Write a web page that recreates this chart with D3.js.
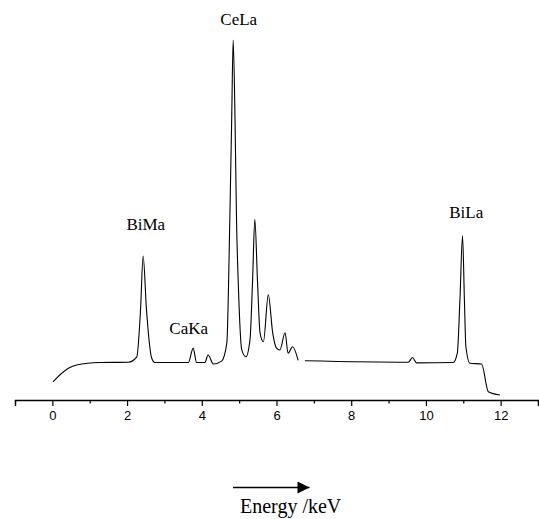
<!DOCTYPE html>
<html>
<head>
<meta charset="utf-8">
<script src="https://cdn.jsdelivr.net/npm/d3@7"></script>
<style>
  html, body { margin: 0; padding: 0; background: #fff; }
  svg { display: block; }
</style>
</head>
<body>
<svg id="chart" width="539" height="519"></svg>
<script>
// EDS spectrum: energy (keV) and relative intensity (counts, arbitrary)
const energy = [
  0.02, 0.43, 0.65, 1.27, 2.03, 2.26, 2.36, 2.43, 2.52, 2.66, 2.75,
  3.64, 3.77, 3.86, 4.08, 4.17, 4.31, 4.53, 4.67, 4.75, 4.80, 4.84,
  4.89, 4.93, 4.98, 5.07, 5.18, 5.29, 5.36, 5.42, 5.49, 5.56, 5.65,
  5.78, 5.90, 6.00, 6.09, 6.23, 6.31, 6.43, 6.58, 6.66, 6.76, 9.53,
  9.64, 9.75, 10.73, 10.84, 10.91, 10.98, 11.03, 11.07, 11.18, 11.49,
  11.67, 11.98
];
const intensity = [
  51, 88, 97, 104, 105, 120, 250, 400, 250, 116, 104,
  104, 144, 104, 104, 125, 100, 108, 158, 500, 778, 1000,
  778, 500, 315, 139, 120, 167, 333, 502, 333, 186, 162,
  292, 185, 144, 139, 187, 130, 148, 110, null, 109, 105,
  118, 103, 104, 130, 278, 456, 278, 148, 102, 100,
  23, 14
];

// Peak labels
const peakNames = ["BiMa", "CaKa", "CeLa", "BiLa"];
const peakLabelX = [2.50, 3.65, 4.99, 11.08];     // keV
const peakLabelY = [473, 182, 1042, 506];          // intensity units

const tickValues = d3.range(-1, 14);
const labelledTicks = [0, 2, 4, 6, 8, 10, 12];

const svg = d3.select("#chart");

const x = d3.scaleLinear().domain([-1, 13]).range([15, 538]);
const y = d3.scaleLinear().domain([0, 1000]).range([400, 40]);

// Spectrum trace
const points = energy.map((e, i) => ({ e, v: intensity[i] }));
const line = d3.line()
  .defined(d => d.v !== null)
  .x(d => x(d.e))
  .y(d => y(d.v))
  .curve(d3.curveMonotoneX);

svg.append("path")
  .datum(points)
  .attr("d", line)
  .attr("fill", "none")
  .attr("stroke", "#000")
  .attr("stroke-width", 1.1)
  .attr("stroke-linejoin", "round");

// Energy axis
const axis = d3.axisBottom(x)
  .tickValues(tickValues)
  .tickSizeOuter(0)
  .tickSize(6)
  .tickPadding(5)
  .tickFormat(d => labelledTicks.includes(d) ? d3.format("d")(d) : "");

const gAxis = svg.append("g")
  .attr("transform", `translate(0,${y(0)})`)
  .call(axis);

gAxis.select(".domain").attr("stroke", "#000").attr("stroke-width", 1.4);
gAxis.selectAll(".tick line")
  .attr("stroke", "#000")
  .attr("stroke-width", 1.2)
  .attr("y2", d => labelledTicks.includes(d) ? 6 : 3.5);
gAxis.selectAll(".tick text")
  .attr("fill", "#000")
  .style("font-family", "'Liberation Sans', Arial, sans-serif")
  .style("font-size", "13px");

// Peak labels
svg.append("g")
  .selectAll("text")
  .data(peakNames)
  .join("text")
  .attr("x", (d, i) => x(peakLabelX[i]))
  .attr("y", (d, i) => y(peakLabelY[i]))
  .attr("text-anchor", "middle")
  .style("font-family", "'Liberation Serif', 'Times New Roman', serif")
  .style("font-size", "17px")
  .attr("fill", "#000")
  .text(d => d);

// Axis title with direction arrow
const defs = svg.append("defs");
defs.append("marker")
  .attr("id", "arrowhead")
  .attr("viewBox", "0 0 10 10")
  .attr("refX", 10)
  .attr("refY", 5)
  .attr("markerWidth", 13)
  .attr("markerHeight", 12)
  .attr("markerUnits", "userSpaceOnUse")
  .attr("orient", "auto")
  .append("path")
  .attr("d", "M0,0 L10,5 L0,10 Z")
  .attr("fill", "#000");

svg.append("line")
  .attr("x1", 233)
  .attr("x2", 309.5)
  .attr("y1", 487.5)
  .attr("y2", 487.5)
  .attr("stroke", "#000")
  .attr("stroke-width", 1.4)
  .attr("marker-end", "url(#arrowhead)");

svg.append("text")
  .attr("x", 240)
  .attr("y", 512.5)
  .style("font-family", "'Liberation Serif', 'Times New Roman', serif")
  .style("font-size", "20px")
  .attr("fill", "#000")
  .text("Energy /keV");
</script>
</body>
</html>
